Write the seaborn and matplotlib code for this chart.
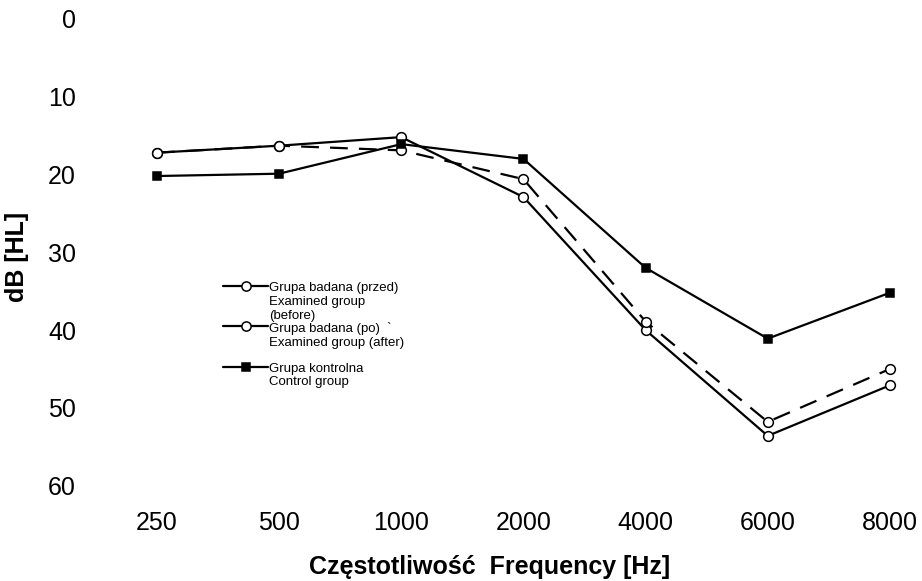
import numpy as np
import pandas as pd
import seaborn as sns
from matplotlib import pyplot as plt
from matplotlib.legend_handler import HandlerLine2D

frequencies = ["250", "500", "1000", "2000", "4000", "6000", "8000"]
before_db = [17.2, 16.3, 15.2, 22.9, 40.0, 53.6, 47.1]
after_db = [17.2, 16.3, 16.9, 20.6, 38.9, 51.8, 45.0]
control_db = [20.2, 19.9, 16.1, 18.0, 32.0, 41.1, 35.2]

label_before = "Grupa badana (przed)\nExamined group\n(before)"
label_after = "Grupa badana (po)  `\nExamined group (after)\n"
label_control = "Grupa kontrolna\nControl group"
y_ticks = [0, 10, 20, 30, 40, 50, 60]


class FirstLineHandler(HandlerLine2D):
    """Puts the legend handle next to the first line of a multi-line label."""

    def __init__(self, lines_above, **kw):
        super().__init__(**kw)
        self.lines_above = lines_above

    def create_artists(self, legend, orig_handle, xdescent, ydescent, width, height, fontsize, trans):
        shift = self.lines_above * 1.2 * fontsize
        return super().create_artists(legend, orig_handle, xdescent, ydescent - 2 * shift,
                                      width, height, fontsize, trans)


sns.set_style("white")
plt.rcParams["font.family"] = ["Liberation Sans", "DejaVu Sans"]
plt.rcParams["text.color"] = "black"
plt.rcParams["axes.labelcolor"] = "black"
plt.rcParams["xtick.color"] = "black"
plt.rcParams["ytick.color"] = "black"

fig = plt.figure(figsize=(9.22, 5.81), dpi=100)
ax = fig.add_axes([0.1172, 0.1373, 0.8745, 0.857])

series = [
    (before_db, label_before, "o", "white", "-", 7),
    (after_db, label_after, "o", "white", (0, (8, 5)), 7),
    (control_db, label_control, "s", "black", "-", 6),
]
for values, label, marker, face, style, msize in series:
    df = pd.DataFrame({"freq": frequencies, "db": values})
    sns.lineplot(data=df, x="freq", y="db", ax=ax, sort=False, errorbar=None,
                 color="black", linewidth=1.6, linestyle=style, marker=marker,
                 markersize=msize, markerfacecolor=face, markeredgecolor="black",
                 markeredgewidth=1.1, label=label)

ax.set_xlim(-0.4, 6.2)
ax.set_ylim(62, -2)
ax.set_yticks(y_ticks)
ax.tick_params(axis="both", length=0, labelsize=18, labelcolor="black")
ax.tick_params(axis="y", pad=23)
ax.tick_params(axis="x", pad=7)
for spine in ax.spines.values():
    spine.set_visible(False)

ax.set_xlabel("Częstotliwość  Frequency [Hz]", fontsize=18, fontweight="bold", color="black")
ax.xaxis.set_label_coords(0.473, -0.107)
ax.set_ylabel("dB [HL]", fontsize=18, fontweight="bold", color="black")
ax.yaxis.set_label_coords(-0.098, 0.49)

handles = ax.get_lines()[:3]
leg = ax.legend(handles, [label_before, label_after, label_control],
                handler_map={handles[0]: FirstLineHandler(1.0),
                             handles[1]: FirstLineHandler(1.0),
                             handles[2]: FirstLineHandler(0.5)},
                loc="upper left", bbox_to_anchor=(0.242, 0.514), bbox_transform=fig.transFigure,
                frameon=False, fontsize=9.5, borderpad=0, borderaxespad=0,
                labelspacing=0, handlelength=3.4, handletextpad=0.1, markerscale=0.95)
for line in leg.get_lines():
    line.set_linestyle("-")
for text in leg.get_texts():
    text.set_color("black")

fig.savefig("out.png", dpi=100)
